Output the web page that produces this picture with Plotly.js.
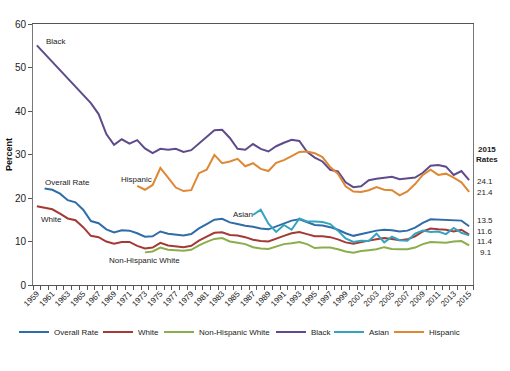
<!DOCTYPE html>
<html>
<head>
<meta charset="utf-8">
<script src="https://cdn.plot.ly/plotly-3.0.1.min.js"></script>
<style>html,body{margin:0;padding:0;background:#fff;}#chart{width:510px;height:371px;}</style>
</head>
<body>
<div id="chart"></div>
<script>
var years = [];
for (var yr = 1959; yr <= 2015; yr++) years.push(yr);
var tickYears = [1959,1961,1963,1965,1967,1969,1971,1973,1975,1977,1979,1981,1983,1985,1987,1989,1991,1993,1995,1997,1999,2001,2003,2005,2007,2009,2011,2013,2015];
var tickLabels = tickYears.map(String);

var overall = [null,22.2,21.9,21.0,19.5,19.0,17.3,14.7,14.2,12.8,12.1,
  12.6,12.5,11.9,11.1,11.2,12.3,11.8,11.6,11.4,11.7,
  13.0,14.0,15.0,15.2,14.4,14.0,13.6,13.4,13.0,12.8,
  13.5,14.2,14.8,15.1,14.5,13.8,13.7,13.3,12.7,11.9,
  11.3,11.7,12.1,12.5,12.7,12.6,12.3,12.5,13.2,14.3,
  15.1,15.0,15.0,14.8,14.8,13.5];
var white = [18.1,17.8,17.4,16.4,15.3,14.9,13.3,11.3,11.0,10.0,9.5,
  9.9,9.9,9.0,8.4,8.6,9.7,9.1,8.9,8.7,9.0,
  10.2,11.1,12.0,12.1,11.5,11.4,11.0,10.4,10.1,10.0,
  10.7,11.3,11.9,12.2,11.7,11.2,11.2,11.0,10.5,9.8,
  9.5,9.9,10.2,10.5,10.8,10.6,10.3,10.5,11.2,12.3,
  13.0,12.8,12.7,12.3,12.7,11.6];
var nonHispanicWhite = [null,null,null,null,null,null,null,null,null,null,null,null,null,null,
  7.5,7.7,8.6,8.1,8.0,7.9,8.1,
  9.1,9.9,10.6,10.8,10.0,9.7,9.4,8.7,8.4,8.3,
  8.8,9.4,9.6,9.9,9.4,8.5,8.6,8.6,8.2,7.7,
  7.4,7.8,8.0,8.2,8.7,8.3,8.2,8.2,8.6,9.4,
  9.9,9.8,9.7,10.0,10.1,9.1];
var black = [55.1,null,null,null,null,null,null,41.8,39.3,34.7,32.2,
  33.5,32.5,33.3,31.4,30.3,31.3,31.1,31.3,30.6,31.0,
  32.5,34.2,35.6,35.7,33.8,31.3,31.1,32.4,31.3,30.7,
  31.9,32.7,33.4,33.1,30.6,29.3,28.4,26.5,26.1,23.6,
  22.5,22.7,24.1,24.4,24.7,24.9,24.3,24.5,24.7,25.8,
  27.4,27.6,27.2,25.3,26.2,24.1];
var asian = [null,null,null,null,null,null,null,null,null,null,null,null,null,null,
  null,null,null,null,null,null,null,null,null,null,null,null,null,null,
  16.1,17.3,14.1,
  12.2,13.8,12.7,15.3,14.6,14.6,14.5,14.0,12.5,10.7,
  9.9,10.2,10.1,11.8,9.8,11.1,10.3,10.2,11.8,12.5,
  12.2,12.3,11.7,13.1,12.0,11.4];
var hispanic = [null,null,null,null,null,null,null,null,null,null,null,null,null,
  22.8,21.9,23.0,26.9,24.7,22.4,21.6,21.8,
  25.7,26.5,29.9,28.0,28.4,29.0,27.3,28.0,26.7,26.2,
  28.1,28.7,29.6,30.6,30.7,30.3,29.4,27.1,25.6,22.7,
  21.5,21.4,21.8,22.5,21.9,21.8,20.6,21.5,23.2,25.3,
  26.5,25.3,25.6,24.7,23.6,21.4];

var seriesNames = ['Overall Rate','White','Non-Hispanic White','Black','Asian','Hispanic'];
var seriesData = [overall, white, nonHispanicWhite, black, asian, hispanic];
var colors = ['#2F6CA8','#A33A35','#8AAE4A','#5F4B8B','#33A3C0','#DF8733'];
var legendNames = ['legend','legend2','legend3','legend4','legend5','legend6'];
var legendX = [14, 98, 159, 271, 329, 389];

var FONT = 'Liberation Sans, Arial, sans-serif';
var traces = seriesData.map(function (d, i) {
  return {
    x: years, y: d, name: seriesNames[i], type: 'scatter', mode: 'lines',
    connectgaps: true,
    line: {color: colors[i], width: 2},
    legend: legendNames[i], hoverinfo: 'skip'
  };
});

function last(a) { return a[a.length - 1].toFixed(1); }

var annotations = [
  {x: 1959.9, y: 55.9, text: 'Black', xanchor: 'left'},
  {x: 1959.8, y: 23.5, text: 'Overall Rate', xanchor: 'left'},
  {x: 1959.3, y: 15.0, text: 'White', xanchor: 'left'},
  {x: 1969.66, y: 24.2, text: 'Hispanic', xanchor: 'left'},
  {x: 1984.13, y: 16.2, text: 'Asian', xanchor: 'left'},
  {x: 1968.03, y: 5.6, text: 'Non-Hispanic White', xanchor: 'left'}
].map(function (a) {
  a.xref = 'x'; a.yref = 'y'; a.yanchor = 'middle'; a.showarrow = false;
  a.font = {family: FONT, size: 8, color: '#222'};
  return a;
});
var rightLabels = [
  {y: 23.9, text: last(black)},
  {y: 21.3, text: last(hispanic)},
  {y: 14.8, text: last(overall)},
  {y: 12.25, text: last(white)},
  {y: 9.95, text: last(asian)},
  {y: 7.4, text: last(nonHispanicWhite)}
];
rightLabels.forEach(function (r, i) {
  annotations.push({xref: 'paper', yref: 'y', x: (i === 5 ? 1.012 : 1.004), y: r.y, text: r.text,
    xanchor: 'left', yanchor: 'middle', showarrow: false,
    font: {family: FONT, size: 8, color: '#222'}});
});
annotations.push({xref: 'paper', yref: 'y', x: 1.032, y: 29.9, text: '<b>2015</b><br><b>Rates</b>',
  xanchor: 'center', yanchor: 'middle', showarrow: false, align: 'center',
  font: {family: FONT, size: 8, color: '#222'}});

var layout = {
  width: 510, height: 371,
  margin: {l: 33, r: 37, t: 24, b: 86},
  paper_bgcolor: '#fff', plot_bgcolor: '#fff',
  font: {family: FONT, color: '#222'},
  xaxis: {
    type: 'linear', range: [1958.5, 2015.5],
    tickmode: 'array', tickvals: tickYears, ticktext: tickLabels,
    tickangle: -45, ticks: '', tickfont: {family: FONT, size: 8, color: '#222'},
    minor: {tick0: 1958.5, dtick: 1, ticks: 'outside', ticklen: 4, tickcolor: '#555', showgrid: false},
    showline: true, linecolor: '#555', linewidth: 1, mirror: true,
    showgrid: false, zeroline: false, fixedrange: true
  },
  yaxis: {
    range: [0, 60], tickmode: 'linear', tick0: 0, dtick: 10,
    ticks: 'outside', ticklen: 4, tickcolor: '#555',
    tickfont: {family: FONT, size: 10, color: '#222'},
    showline: true, linecolor: '#777', linewidth: 1, mirror: true,
    showgrid: false, zeroline: false, fixedrange: true,
    title: {text: '<b>Percent</b>', font: {family: FONT, size: 9, color: '#111'}, standoff: 0}
  },
  annotations: annotations,
  showlegend: true
};
legendNames.forEach(function (ln, i) {
  layout[ln] = {
    xref: 'container', yref: 'container',
    x: legendX[i] / 510, y: 1 - 332 / 371, xanchor: 'left', yanchor: 'middle',
    orientation: 'h', bgcolor: 'rgba(0,0,0,0)', borderwidth: 0,
    font: {family: FONT, size: 8, color: '#222'}
  };
});

Plotly.newPlot('chart', traces, layout, {displayModeBar: false, staticPlot: true});
</script>
</body>
</html>
